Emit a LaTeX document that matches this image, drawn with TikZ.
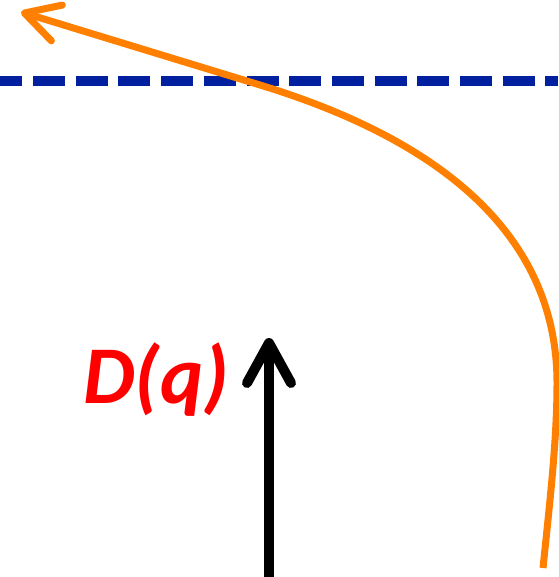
\documentclass[tikz,border=0pt]{standalone}
\usepackage{fontspec}
\setmainfont{Carlito}
\usepackage{tikz}
\usetikzlibrary{arrows.meta,positioning}
\definecolor{levelblue}{RGB}{0,32,159}
\definecolor{pathorange}{RGB}{255,128,0}
\definecolor{labelred}{RGB}{255,0,0}

\begin{document}
\begin{tikzpicture}[x=1pt, y=-1pt,
    every node/.style={font=\fontsize{82pt}{90pt}\selectfont\bfseries\itshape},
    barb/.style={-{Straight Barb[length=#1, width=1.1*#1, round]}}]
        \useasboundingbox (0,0) rectangle (558,577);
        % dashed level
        \coordinate (levelL) at (0,81);
        \coordinate (levelR) at (558,81);
        \draw[levelblue, line width=10pt, dash pattern=on 32pt off 10.7pt, dash phase=9.7pt] (levelL) -- (levelR);
        % curved trajectory
        \coordinate (start) at (543,568);
        \coordinate (side) at (557,383);
        \coordinate (bend) at (260,85);
        \coordinate (tip) at (21,12);
        \draw[pathorange, line width=7pt, barb=34pt] (start) .. controls (550,500) and (557,440) .. (side)
            .. controls (557,218) and (413,131.7) .. (bend) -- (tip);
        % vertical arrow and its label
        \coordinate (base) at (269,577);
        \coordinate (top) at (269,338);
        \draw[black, line width=10pt, barb=40pt] (base) -- (top);
        \node[labelred, anchor=base west, inner sep=0pt] (dq) at (83,403) {D(q)};
    \end{tikzpicture}
\end{document}
